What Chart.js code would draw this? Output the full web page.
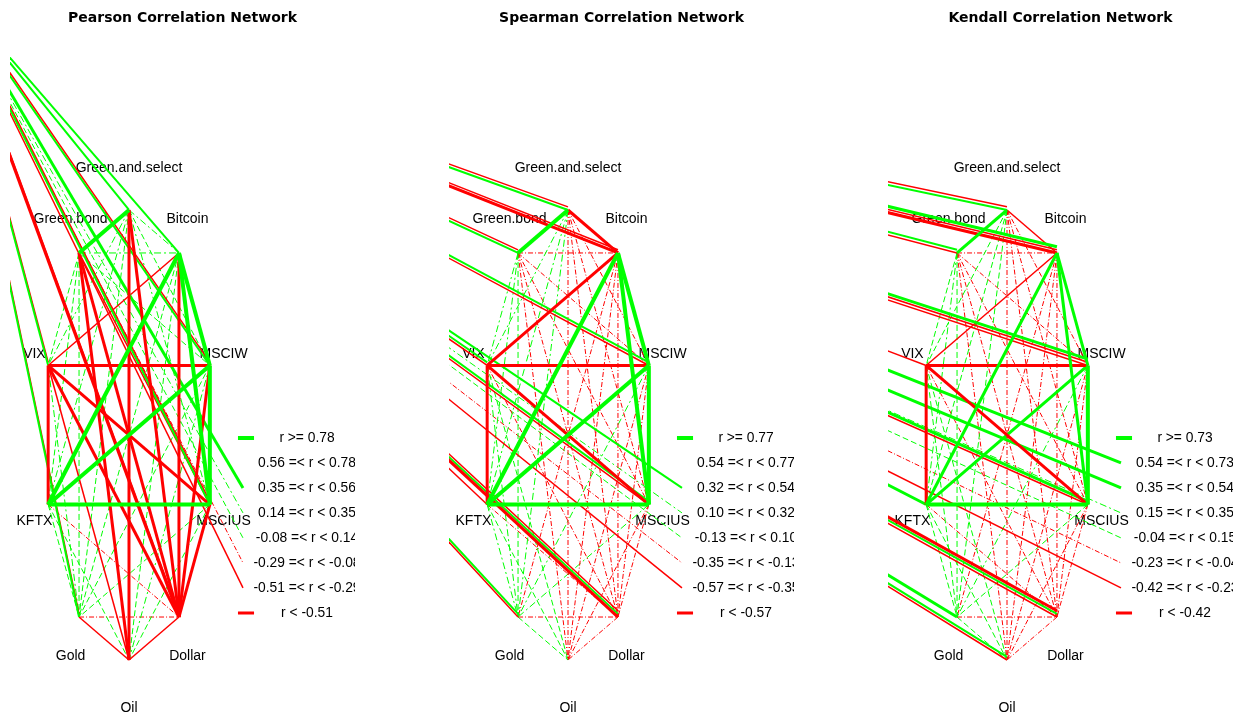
<!DOCTYPE html>
<html>
<head>
<meta charset="utf-8">
<script src="https://cdn.jsdelivr.net/npm/chart.js@4.4.1/dist/chart.umd.min.js"></script>
<style>
  body { margin: 0; background: #fff; }
  #wrap { position: relative; width: 1239px; height: 716px; overflow: hidden; }
  canvas { position: absolute; top: 0; }
</style>
</head>
<body>
<div id="wrap">
  <canvas id="pearson" width="345" height="716" style="left:10px"></canvas>
  <canvas id="spearman" width="345" height="716" style="left:449px"></canvas>
  <canvas id="kendall" width="345" height="716" style="left:888px"></canvas>
</div>
<script>
// nodes of the network and their place on the circle layout (degrees)
const nodes = ['Green.and.select', 'Green.bond', 'Bitcoin', 'VIX', 'MSCIW', 'KFTX', 'MSCIUS', 'Gold', 'Dollar', 'Oil'];
const nodeAngles = [90, 126, 54, 162, 18, 198, 342, 234, 306, 270];

// upper triangle of each correlation matrix, row by row in node order
const pearson = [
  0.85, 0.20, 0.20, 0.10, 0.15, 0.25, 0.00, -0.60, -0.55,
  0.15, 0.00, 0.10, 0.10, -0.30, 0.05, -0.60, -0.55,
  -0.45, 0.80, 0.80, 0.82, 0.10, -0.55, 0.10,
  -0.75, -0.70, -0.75, 0.20, -0.55, -0.30,
  0.85, 0.95, 0.10, -0.60, 0.20,
  0.85, 0.10, -0.20, 0.10,
  0.05, -0.60, 0.10,
  -0.20, -0.35,
  -0.35
];
const spearman = [
  0.85, -0.60, 0.15, -0.20, 0.15, -0.20, 0.15, -0.25, -0.20,
  -0.20, 0.15, -0.25, 0.15, -0.25, 0.00, -0.15, -0.20,
  -0.58, 0.80, 0.80, 0.80, -0.20, -0.20, -0.20,
  -0.60, -0.60, -0.65, 0.15, -0.20, 0.00,
  0.85, 0.95, 0.15, -0.20, -0.20,
  0.85, 0.15, -0.20, 0.00,
  0.15, -0.20, -0.20,
  -0.20, 0.00,
  -0.20
];
const kendall = [
  0.65, -0.30, 0.10, -0.10, 0.10, -0.10, 0.10, -0.10, -0.10,
  -0.10, 0.10, -0.10, 0.20, -0.10, 0.05, -0.10, -0.10,
  -0.30, 0.60, 0.55, 0.60, -0.10, -0.10, -0.10,
  -0.45, -0.45, -0.50, 0.10, -0.10, 0.05,
  0.65, 0.85, 0.20, -0.10, -0.10,
  0.75, 0.10, -0.10, 0.05,
  0.10, -0.10, -0.10,
  -0.10, 0.05,
  -0.10
];

// class limits shown in each legend
const pearsonBreaks = [0.78, 0.56, 0.35, 0.14, -0.08, -0.29, -0.51];
const spearmanBreaks = [0.77, 0.54, 0.32, 0.10, -0.13, -0.35, -0.57];
const kendallBreaks = [0.73, 0.54, 0.35, 0.15, -0.04, -0.23, -0.42];

// stray edges that run in from a far away point: [target, class]
const pearsonGhost = [-2.14, 2.0];
const pearsonStrays = [
  ['Bitcoin', 2], ['Green.and.select', 2], ['MSCIW', 2], ['MSCIW', 6],
  ['L2', 1], ['L3', 3], ['L4', 4], ['L5', 5], ['L6', 6],
  ['MSCIUS', 2], ['MSCIUS', 6], ['Dollar', 7], ['Dollar', 6],
  ['VIX', 2], ['VIX', 6], ['Gold', 2], ['Gold', 6]
];
const spearmanGhost = [-7.49, 2.02];
const spearmanStrays = [
  ['Green.and.select', 2], ['Green.and.select', 6], ['Bitcoin', 7], ['Bitcoin', 6],
  ['Green.bond', 2], ['Green.bond', 6], ['MSCIW', 6], ['MSCIW', 2],
  ['L2', 2], ['L3', 3], ['L4', 4], ['L5', 5], ['L6', 6],
  ['VIX', 6], ['VIX', 2], ['MSCIUS', 6], ['MSCIUS', 2],
  ['Dollar', 7], ['Dollar', 2], ['Dollar', 6], ['Gold', 6], ['Gold', 2], ['KFTX', 6]
];
const kendallGhost = [-12.96, 2.03];
const kendallStrays = [
  ['Green.and.select', 2], ['Green.and.select', 6], ['Bitcoin', 7], ['Bitcoin', 6], ['Bitcoin', 1],
  ['Green.bond', 6], ['Green.bond', 2], ['MSCIW', 6], ['MSCIW', 6], ['MSCIW', 1],
  ['VIX', 6], ['L1', 1], ['L2', 1], ['MSCIUS', 6], ['MSCIUS', 1],
  ['L3', 3], ['L4', 4], ['L5', 5], ['L6', 6], ['KFTX', 1],
  ['Dollar', 6], ['Dollar', 2], ['Dollar', 7], ['Gold', 1], ['Oil', 6], ['Oil', 2]
];

// line look of each class
const GREEN = '#00ff00', RED = '#ff0000';
const classColor = [GREEN, GREEN, GREEN, GREEN, GREEN, RED, RED, RED];
const classWidth = [4, 3, 2, 1, 1, 1, 1.5, 3];
const classDash = [[], [], [], [7, 3, 2, 3], [6, 3], [5, 2, 1, 2], [], []];

// layout in data units (node circle has radius 1)
const xMin = -1.4, xMax = 2.6588, yMin = -1.2489, yMax = 1.8142;
const legendRow0 = -0.013, legendStep = 0.1111;
const sampleX = [1.282, 1.471], strayEndX = 1.341, legendTextX = 2.094;

const rad = d => d * Math.PI / 180;
const nodePos = nodeAngles.map(a => ({ x: Math.cos(rad(a)), y: Math.sin(rad(a)) }));
const rowY = k => legendRow0 - k * legendStep;

function classOf(r, breaks) {
  for (let k = 0; k < breaks.length; k++) {
    if (r >= breaks[k]) return k;
  }
  return breaks.length;
}

function legendLabels(b) {
  const f = v => v.toFixed(2);
  const out = ['r >= ' + f(b[0])];
  for (let k = 1; k < b.length; k++) out.push(f(b[k]) + ' =< r < ' + f(b[k - 1]));
  out.push('r < ' + f(b[b.length - 1]));
  return out;
}

function lineSet(p, q, cls) {
  return {
    data: [p, q],
    showLine: true,
    borderColor: classColor[cls],
    borderWidth: classWidth[cls],
    borderDash: classDash[cls],
    borderCapStyle: 'butt',
    pointRadius: 0,
    pointHoverRadius: 0,
    order: -classWidth[cls] * 10
  };
}

const netText = {
  id: 'netText',
  beforeDatasetsDraw(chart, args, opts) {
    const { ctx, scales: { x, y } } = chart;
    ctx.save();
    ctx.fillStyle = '#000';
    ctx.textAlign = 'center';
    ctx.textBaseline = 'middle';
    ctx.font = '14px "Liberation Sans", Arial, sans-serif';
    nodes.forEach((name, i) => {
      const a = rad(nodeAngles[i]);
      ctx.fillText(name, x.getPixelForValue(1.17 * Math.cos(a)), y.getPixelForValue(1.2 * Math.sin(a) - 0.012));
    });
    ctx.font = '13.8px "Liberation Sans", Arial, sans-serif';
    opts.labels.forEach((t, k) => {
      ctx.fillText(t, x.getPixelForValue(legendTextX), y.getPixelForValue(rowY(k)));
    });
    ctx.restore();
  }
};

function makeNetwork(id, title, values, breaks, ghost, strays) {
  const datasets = [];
  let n = 0;
  for (let i = 0; i < nodes.length; i++) {
    for (let j = i + 1; j < nodes.length; j++) {
      datasets.push(lineSet(nodePos[i], nodePos[j], classOf(values[n], breaks)));
      n++;
    }
  }
  // stray edges, repeated targets are drawn side by side
  const seen = {};
  strays.forEach(([target, cls]) => {
    seen[target] = (seen[target] || 0) + 1;
    const dy = (seen[target] - 1) * 0.014;
    let end;
    if (target[0] === 'L') end = { x: strayEndX, y: rowY(+target.slice(1)) };
    else end = nodePos[nodes.indexOf(target)];
    datasets.push(lineSet({ x: ghost[0], y: ghost[1] + dy }, { x: end.x, y: end.y + dy }, cls));
  });
  // short legend samples for the end classes
  [0, breaks.length].forEach(k => {
    datasets.push(lineSet({ x: sampleX[0], y: rowY(k) }, { x: sampleX[1], y: rowY(k) }, k));
  });

  new Chart(document.getElementById(id), {
    type: 'scatter',
    data: { datasets },
    options: {
      responsive: false,
      animation: false,
      devicePixelRatio: 1,
      events: [],
      layout: { padding: 0 },
      scales: {
        x: { type: 'linear', min: xMin, max: xMax, display: false },
        y: { type: 'linear', min: yMin, max: yMax, display: false }
      },
      plugins: {
        legend: { display: false },
        tooltip: { enabled: false },
        title: {
          display: true,
          text: title,
          color: '#000',
          font: { family: 'DejaVu Sans', size: 14, weight: 'bold' },
          padding: { top: 10, bottom: 0 }
        },
        netText: { labels: legendLabels(breaks) }
      }
    },
    plugins: [netText]
  });
}

makeNetwork('pearson', 'Pearson Correlation Network', pearson, pearsonBreaks, pearsonGhost, pearsonStrays);
makeNetwork('spearman', 'Spearman Correlation Network', spearman, spearmanBreaks, spearmanGhost, spearmanStrays);
makeNetwork('kendall', 'Kendall Correlation Network', kendall, kendallBreaks, kendallGhost, kendallStrays);
</script>
</body>
</html>
